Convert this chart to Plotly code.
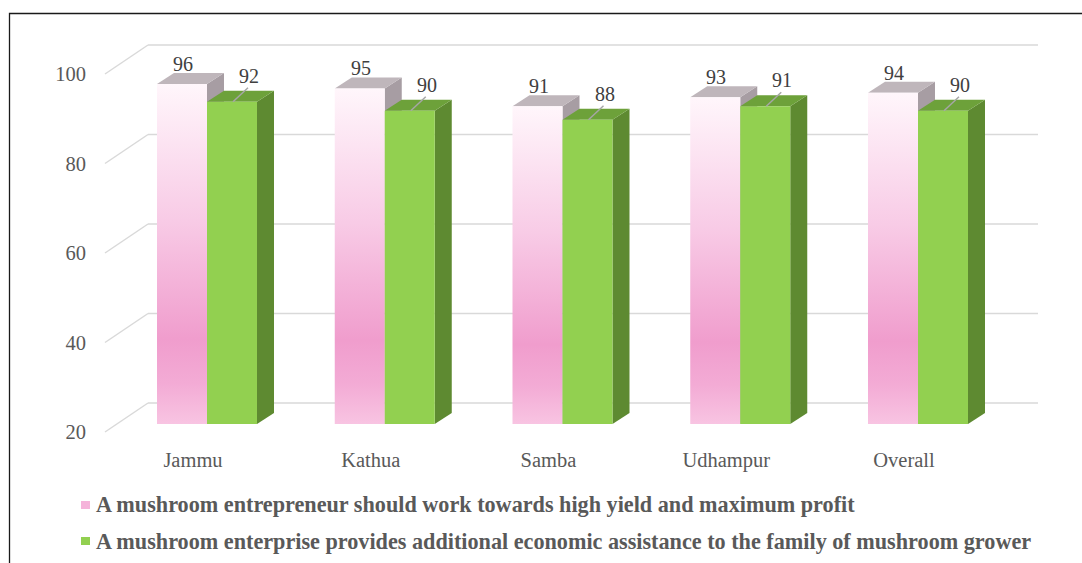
import plotly.graph_objects as go

# ---------------- data ----------------
categories = ["Jammu", "Kathua", "Samba", "Udhampur", "Overall"]
series1_name = "A mushroom entrepreneur should work towards high yield and maximum profit"
series2_name = "A mushroom enterprise provides additional economic assistance to the family of mushroom grower"
series1 = [96, 95, 91, 93, 94]
series2 = [92, 90, 88, 91, 90]
y_ticks = [20, 40, 60, 80, 100]
y_tick_labels = ["20", "40", "60", "80", "100"]

# ---------------- geometry (pixels) ----------------
W, H = 1082, 563
PL, PR, PT, PB = 100, 1045, 25, 436          # plot area edges in px
PX_CAT = 177.75                              # px per category
PX_VAL = 4.475                               # px per value unit
BASE = 20
X0_PX = 207                                  # px of first category centre (bar plane)
BAR_BOTTOM_PX = 424                          # px of BASE on bar plane

x_range = [(PL - X0_PX) / PX_CAT, (PR - X0_PX) / PX_CAT]
y_range = [BASE - (PB - BAR_BOTTOM_PX) / PX_VAL, BASE + (BAR_BOTTOM_PX - PT) / PX_VAL]


def dx(px):
    return px / PX_CAT


def dv(px):
    return px / PX_VAL


def paper_x(px):
    return (px - PL) / (PR - PL)


def paper_y(py):
    return (PB - py) / (PB - PT)


BAR_W = dx(50)
DEPTH_X, DEPTH_V = dx(17), dv(11)
WALL_FRONT_X, WALL_FRONT_V = dx(-11.5), dv(-8)
WALL_BACK_X, WALL_BACK_V = dx(31.5), dv(21)
WALL_LEFT_X = (116.5 - X0_PX) / PX_CAT
WALL_RIGHT_X = (1038 - 31.5 - X0_PX) / PX_CAT

GRID_COLOR = "#D9D9D9"
PINK_TOP, PINK_SIDE = "#BFB6BB", "#A79DA3"
GREEN_FRONT, GREEN_TOP, GREEN_SIDE = "#92D050", "#6DA13A", "#5E8A31"
PINK_SCALE = [[0, "#F8C4E2"], [0.12, "#F3ABD5"], [0.25, "#F09DCD"],
              [0.6, "#F8CBE6"], [1, "#FFF6FB"]]
FONT = "Liberation Serif"

fig = go.Figure()

# ---------------- walls / gridlines ----------------
gx, gy = [], []
for v in y_ticks:
    gx += [WALL_LEFT_X + WALL_BACK_X, WALL_RIGHT_X + WALL_BACK_X, None]
    gy += [v + WALL_BACK_V, v + WALL_BACK_V, None]
    gx += [WALL_LEFT_X + WALL_FRONT_X, WALL_LEFT_X + WALL_BACK_X, None]
    gy += [v + WALL_FRONT_V, v + WALL_BACK_V, None]
fig.add_trace(go.Scatter(x=gx, y=gy, mode="lines",
                         line=dict(color=GRID_COLOR, width=1.5),
                         hoverinfo="skip", showlegend=False))


def poly(xs, ys, color=None, gradient=None):
    kw = dict(x=xs + [xs[0]], y=ys + [ys[0]], mode="lines", fill="toself",
              line=dict(width=0, color=color or "rgba(0,0,0,0)"),
              hoverinfo="skip", showlegend=False)
    if gradient is not None:
        kw["fillgradient"] = gradient
    else:
        kw["fillcolor"] = color
    fig.add_trace(go.Scatter(**kw))


def bar3d(xl, v, front, top, side, gradient=None):
    xr = xl + BAR_W
    poly([xr, xr + DEPTH_X, xr + DEPTH_X, xr],
         [BASE, BASE + DEPTH_V, v + DEPTH_V, v], side)
    poly([xl, xr, xr + DEPTH_X, xl + DEPTH_X],
         [v, v, v + DEPTH_V, v + DEPTH_V], top)
    poly([xl, xr, xr, xl], [BASE, BASE, v, v], front, gradient)


for i in range(len(categories)):
    bar3d(i - BAR_W, series1[i], "#F5B6DA", PINK_TOP, PINK_SIDE,
          gradient=dict(type="vertical", colorscale=PINK_SCALE,
                        start=BASE, stop=series1[i]))
    bar3d(i, series2[i], GREEN_FRONT, GREEN_TOP, GREEN_SIDE)

# leader lines for series2 labels
lx, ly = [], []
for i, v in enumerate(series2):
    lx += [i + dx(26), i + dx(41), None]
    ly += [v, v + dv(14), None]
fig.add_trace(go.Scatter(x=lx, y=ly, mode="lines",
                         line=dict(color="#A6A6A6", width=1.5),
                         hoverinfo="skip", showlegend=False))

annotations = []
for i, v in enumerate(series1):
    annotations.append(dict(x=i - BAR_W / 2, y=v, text=str(v), showarrow=False,
                            xshift=1, yshift=20, yanchor="middle",
                            font=dict(family=FONT, size=20, color="#404040")))
for i, v in enumerate(series2):
    annotations.append(dict(x=i, y=v, text=str(v), showarrow=False,
                            xshift=42, yshift=26, yanchor="middle",
                            font=dict(family=FONT, size=20, color="#404040")))

# ---------------- legend ----------------
legend_rows = [(series1_name, "#F5B3DA", 505), (series2_name, GREEN_FRONT, 541)]
shapes = []
for name, col, ypx in legend_rows:
    shapes.append(dict(type="rect", xref="paper", yref="paper",
                       x0=paper_x(81), x1=paper_x(90),
                       y0=paper_y(ypx + 4), y1=paper_y(ypx - 4),
                       fillcolor=col, line=dict(width=0), layer="above"))
    annotations.append(dict(xref="paper", yref="paper", x=paper_x(94), y=paper_y(ypx),
                            xanchor="left", yanchor="middle", showarrow=False,
                            text="<b>" + name + "</b>",
                            font=dict(family=FONT, size=22.2, color="#595959")))

# outer frame (left + top visible)
shapes.append(dict(type="rect", xref="paper", yref="paper",
                   x0=paper_x(9.5), x1=paper_x(1100), y0=paper_y(580), y1=paper_y(13.5),
                   line=dict(color="#1A1A1A", width=1.3), layer="below"))

fig.update_layout(
    width=W, height=H, autosize=False,
    margin=dict(l=PL, r=W - PR, t=PT, b=H - PB, pad=0),
    paper_bgcolor="white", plot_bgcolor="white",
    showlegend=False,
    shapes=shapes, annotations=annotations,
    xaxis=dict(range=x_range, showgrid=False, zeroline=False, showline=False,
               tickmode="array",
               tickvals=[i + dx(-14) for i in range(len(categories))],
               ticktext=categories, ticks="", ticklabelstandoff=9,
               tickfont=dict(family=FONT, size=20.5, color="#595959"),
               fixedrange=True),
    yaxis=dict(range=y_range, showgrid=False, zeroline=False, showline=False,
               tickmode="array",
               tickvals=[v + WALL_FRONT_V for v in y_ticks],
               ticktext=y_tick_labels, ticks="", ticklabelstandoff=13,
               tickfont=dict(family=FONT, size=20.5, color="#595959"),
               fixedrange=True),
)

fig.write_html("out.html",
               post_script="document.body.style.margin='0';document.body.style.overflow='hidden';",
               config={"displayModeBar": False})
